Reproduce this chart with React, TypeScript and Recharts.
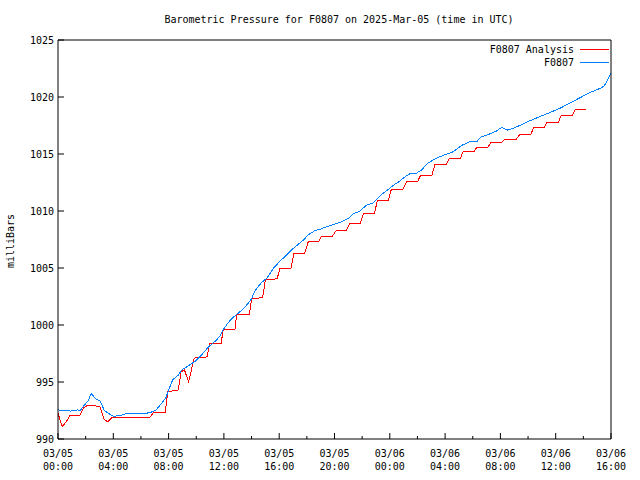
import React from "react";
import { LineChart, Line, XAxis, YAxis, Legend } from "recharts";

// hours since 03/05 00:00 UTC
const stationHours = [
  0.0, 0.5, 0.9, 1.4, 1.6, 1.83, 2.2, 2.4, 2.7, 3.04, 3.35, 3.65, 4.0, 4.5, 4.85, 5.6, 6.2, 6.65,
  7.1, 7.6, 7.8, 8.0, 8.3, 8.7, 8.95, 9.4, 9.9, 10.4, 10.9, 11.4, 11.7, 11.96, 12.3, 12.7, 13.2,
  13.65, 14.0, 14.25, 14.7, 15.1, 15.6, 16.05, 16.5, 17.0, 17.5, 17.75, 18.1, 18.6, 18.95, 19.4,
  19.9, 20.4, 21.0, 21.4, 21.8, 22.3, 22.8, 23.3, 23.8, 24.25, 24.7, 25.1, 25.5, 25.9, 26.3, 26.7,
  27.1, 27.5, 27.9, 28.6, 29.2, 29.8, 30.3, 30.6, 31.1, 31.7, 32.1, 32.5, 32.9, 33.4, 34.1, 34.9,
  35.6, 36.3, 37.0, 37.7, 38.5, 39.2, 39.5, 39.8, 40.0,
];
const stationValues = [
  992.55, 992.5, 992.45, 992.55, 992.5, 992.85, 993.4, 994.0, 993.55, 993.35, 992.5, 992.25, 992.0,
  992.05, 992.2, 992.2, 992.25, 992.3, 992.55, 993.3, 993.6, 994.3, 995.2, 995.6, 996.05, 996.4,
  996.8, 997.4, 998.1, 998.6, 999.0, 999.6, 1000.2, 1000.7, 1001.2, 1001.75, 1002.3, 1003.0, 1003.7,
  1004.1, 1005.0, 1005.6, 1006.1, 1006.7, 1007.2, 1007.45, 1007.9, 1008.3, 1008.4, 1008.6, 1008.8,
  1009.0, 1009.35, 1009.8, 1009.95, 1010.5, 1010.7, 1011.35, 1011.8, 1012.25, 1012.6, 1013.0,
  1013.3, 1013.3, 1013.6, 1014.15, 1014.45, 1014.7, 1014.9, 1015.2, 1015.75, 1016.1, 1016.1,
  1016.5, 1016.7, 1017.0, 1017.35, 1017.1, 1017.25, 1017.5, 1017.9, 1018.3, 1018.65, 1019.0,
  1019.45, 1019.9, 1020.4, 1020.75, 1020.95, 1021.6, 1022.1,
];

const analysisHours = [
  0.0, 0.3, 0.6, 0.87, 1.6, 1.83, 2.07, 2.7, 3.04, 3.35, 3.6, 3.9, 6.65, 6.9, 7.75, 7.95, 8.7, 8.9,
  9.15, 9.45, 9.85, 10.8, 10.95, 11.8, 11.95, 12.8, 12.93, 13.85, 14.0, 14.8, 15.0, 15.85, 16.05,
  16.85, 17.07, 17.85, 18.1, 18.85, 19.07, 19.85, 20.1, 20.85, 21.1, 21.85, 22.1, 22.9, 23.1, 23.9,
  24.1, 24.95, 25.2, 26.0, 26.23, 27.05, 27.27, 28.1, 28.3, 29.1, 29.3, 30.1, 30.3, 31.1, 31.3,
  32.1, 32.3, 33.15, 33.4, 34.2, 34.4, 35.2, 35.35, 36.2, 36.4, 37.2, 37.4, 38.2,
];
const analysisValues = [
  992.25, 991.1, 991.5, 992.1, 992.1, 992.7, 992.9, 992.9, 992.8, 991.7, 991.5, 991.9, 991.9,
  992.3, 992.3, 994.15, 994.3, 995.9, 996.05, 995.0, 997.1, 997.2, 998.4, 998.4, 999.6, 999.6,
  1000.95, 1000.95, 1002.3, 1002.4, 1003.95, 1004.05, 1004.97, 1004.97, 1006.3, 1006.3, 1007.3,
  1007.3, 1007.8, 1007.8, 1008.25, 1008.25, 1008.9, 1008.9, 1009.8, 1009.8, 1010.95, 1010.95,
  1011.85, 1011.9, 1012.55, 1012.55, 1013.15, 1013.15, 1014.1, 1014.1, 1014.6, 1014.6, 1015.2,
  1015.2, 1015.6, 1015.6, 1016.0, 1016.05, 1016.3, 1016.3, 1016.7, 1016.7, 1017.35, 1017.35,
  1017.8, 1017.8, 1018.4, 1018.4, 1018.9, 1018.9,
];

const hourTicks = [0, 2, 4, 6, 8, 10, 12, 14, 16, 18, 20, 22, 24, 26, 28, 30, 32, 34, 36, 38, 40];
const pressureTicks = [990, 995, 1000, 1005, 1010, 1015, 1020, 1025];

const stationData = stationHours.map((t, i) => ({ t, v: stationValues[i] }));
const analysisData = analysisHours.map((t, i) => ({ t, v: analysisValues[i] }));

const FONT = "'DejaVu Sans Mono', 'Liberation Mono', monospace";
const RED = "#ff0000";
const BLUE = "#0080ff";

const pad = (n: number) => (n < 10 ? "0" + n : "" + n);

const BottomTick = (props: any) => {
  const { x, y, payload } = props;
  const h = payload.value as number;
  const major = h % 4 === 0;
  return (
    <g>
      <line x1={x} x2={x} y1={y} y2={y - (major ? 6 : 3)} stroke="#000" />
      {major && (
        <text x={x} textAnchor="middle" fontFamily={FONT} fontSize={10} fill="#000">
          <tspan x={x} y={y + 17.5}>{h < 24 ? "03/05" : "03/06"}</tspan>
          <tspan x={x} y={y + 30.5}>{pad(h % 24) + ":00"}</tspan>
        </text>
      )}
    </g>
  );
};

const TopTick = (props: any) => {
  const { x, y, payload } = props;
  const major = (payload.value as number) % 4 === 0;
  return <line x1={x} x2={x} y1={y} y2={y + (major ? 6 : 3)} stroke="#000" />;
};

const LeftTick = (props: any) => {
  const { x, y, payload } = props;
  return (
    <g>
      <line x1={x} x2={x + 6} y1={y} y2={y} stroke="#000" />
      <text x={x - 4} y={y + 3.5} textAnchor="end" fontFamily={FONT} fontSize={10} fill="#000">
        {payload.value}
      </text>
    </g>
  );
};

const RightTick = (props: any) => {
  const { x, y } = props;
  return <line x1={x} x2={x - 6} y1={y} y2={y} stroke="#000" />;
};

const legendItems = [
  { name: "F0807 Analysis", color: RED },
  { name: "F0807", color: BLUE },
];

const KeyBox = () => (
  <svg width={140} height={30}>
    {legendItems.map((it, i) => (
      <g key={it.name}>
        <text x={94} y={10.5 + i * 13} textAnchor="end" fontFamily={FONT} fontSize={10} fill="#000">
          {it.name}
        </text>
        <line x1={100} x2={129} y1={7.5 + i * 13} y2={7.5 + i * 13} stroke={it.color} />
      </g>
    ))}
  </svg>
);

export default function App() {
  return (
    <div style={{ position: "absolute", left: 0, top: 0, width: 640, height: 480, background: "#fff" }}>
      <LineChart width={640} height={480} margin={{ top: 39, right: 28, bottom: 40, left: 57 }}>
        <XAxis
          dataKey="t"
          type="number"
          domain={[0, 40]}
          ticks={hourTicks}
          interval={0}
          height={1}
          tickSize={0}
          tickMargin={0}
          axisLine={{ stroke: "#000" }}
          tickLine={false}
          tick={<BottomTick />}
        />
        <XAxis
          xAxisId="top"
          orientation="top"
          dataKey="t"
          type="number"
          domain={[0, 40]}
          ticks={hourTicks}
          interval={0}
          height={1}
          tickSize={0}
          tickMargin={0}
          axisLine={{ stroke: "#000" }}
          tickLine={false}
          tick={<TopTick />}
        />
        <YAxis
          type="number"
          domain={[990, 1025]}
          ticks={pressureTicks}
          interval={0}
          width={1}
          tickSize={0}
          tickMargin={0}
          axisLine={{ stroke: "#000" }}
          tickLine={false}
          tick={<LeftTick />}
        />
        <YAxis
          yAxisId="right"
          orientation="right"
          type="number"
          domain={[990, 1025]}
          ticks={pressureTicks}
          interval={0}
          width={1}
          tickSize={0}
          tickMargin={0}
          axisLine={{ stroke: "#000" }}
          tickLine={false}
          tick={<RightTick />}
        />
        <Legend
          layout="horizontal"
          verticalAlign="middle"
          align="center"
          content={<KeyBox />}
          wrapperStyle={{ left: 480, top: 42, width: 140, height: 30 }}
        />
        <Line
          data={analysisData}
          dataKey="v"
          name="F0807 Analysis"
          type="linear"
          stroke={RED}
          strokeWidth={1}
          shapeRendering="crispEdges"
          dot={false}
          isAnimationActive={false}
        />
        <Line
          data={stationData}
          dataKey="v"
          name="F0807"
          type="linear"
          stroke={BLUE}
          strokeWidth={1}
          shapeRendering="crispEdges"
          dot={false}
          isAnimationActive={false}
        />
      </LineChart>
      <svg
        width={640}
        height={480}
        style={{ position: "absolute", left: 0, top: 0, pointerEvents: "none" }}
      >
        <text x={339} y={22.5} textAnchor="middle" fontFamily={FONT} fontSize={10} fill="#000">
          Barometric Pressure for F0807 on 2025-Mar-05 (time in UTC)
        </text>
        <text
          x={13.5}
          y={241}
          textAnchor="middle"
          transform="rotate(-90 13.5 241)"
          fontFamily={FONT}
          fontSize={10}
          fill="#000"
        >
          milliBars
        </text>
      </svg>
    </div>
  );
}
